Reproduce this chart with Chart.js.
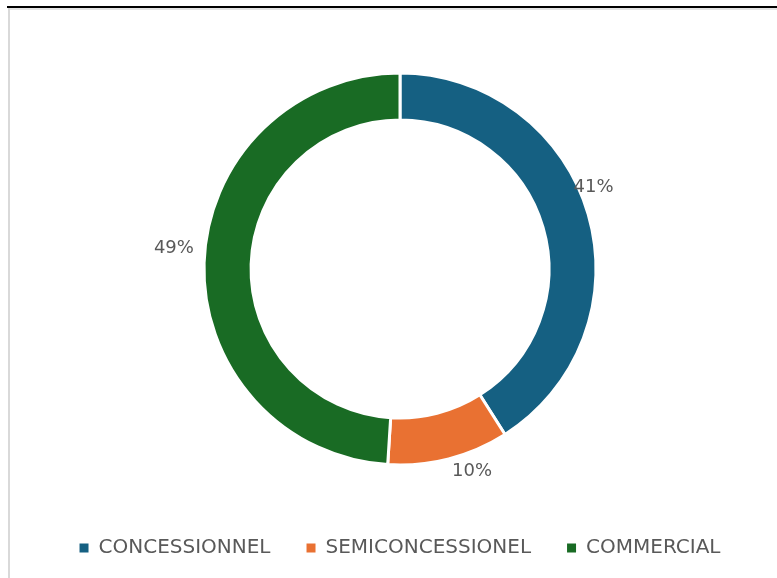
<!DOCTYPE html>
<html>
<head>
<meta charset="utf-8">
<script src="https://cdn.jsdelivr.net/npm/chart.js@4/dist/chart.umd.min.js"></script>
<style>
  html, body { margin: 0; padding: 0; background: #fff; }
  #wrap { position: relative; width: 777px; height: 578px; overflow: hidden; }
  #topline { position: absolute; left: 7px; top: 6px; width: 800px; height: 2px; background: #000; }
  #topgray { position: absolute; left: 8px; top: 8px; width: 800px; height: 2px; background: #e4e4e4; }
  #leftgray { position: absolute; left: 8px; top: 8px; width: 2px; height: 600px; background: #d9d9d9; }
  canvas { position: absolute; left: 0; top: 0; }
</style>
</head>
<body>
<div id="wrap">
  <div id="topline"></div>
  <div id="topgray"></div>
  <div id="leftgray"></div>
  <canvas id="chart" width="777" height="578"></canvas>
</div>
<script>
// Data
const categories = ['CONCESSIONNEL', 'SEMICONCESSIONEL', 'COMMERCIAL'];
const shares = [41, 10, 49];
const colors = ['#156082', '#E97132', '#196B24'];

// Percent labels around the ring (angle nudge in degrees, distance past the outer edge)
const outsideLabels = {
    id: 'outsideLabels',
    afterDatasetsDraw(chart, args, opts) {
        const ctx = chart.ctx;
        const meta = chart.getDatasetMeta(0);
        ctx.save();
        ctx.font = '18px "DejaVu Sans"';
        ctx.fillStyle = '#595959';
        ctx.textAlign = 'center';
        ctx.textBaseline = 'middle';
        meta.data.forEach((arc, i) => {
            const p = arc.getProps(['x', 'y', 'startAngle', 'endAngle', 'outerRadius']);
            const n = opts.nudge[i] || { da: 0, dr: 20 };
            const a = (p.startAngle + p.endAngle) / 2 + n.da * Math.PI / 180;
            const r = p.outerRadius + n.dr;
            ctx.fillText(shares[i] + '%', p.x + Math.cos(a) * r, p.y + Math.sin(a) * r);
        });
        ctx.restore();
    }
};

const ctx = document.getElementById('chart').getContext('2d');
new Chart(ctx, {
    type: 'doughnut',
    data: {
        labels: categories,
        datasets: [{
            data: shares,
            backgroundColor: colors,
            borderColor: '#ffffff',
            borderWidth: 3,
            radius: 196,
            cutout: '76%'
        }]
    },
    options: {
        responsive: false,
        animation: false,
        layout: { padding: { top: 36, left: 23, right: 0, bottom: 10 } },
        plugins: {
            tooltip: { enabled: false },
            outsideLabels: {
                nudge: [{ da: -6.6, dr: 14 }, { da: -5.2, dr: 19 }, { da: 3.3, dr: 31 }]
            },
            legend: {
                position: 'bottom',
                labels: {
                    boxWidth: 9,
                    boxHeight: 9,
                    padding: 36,
                    color: '#595959',
                    font: { family: 'DejaVu Sans', size: 20 },
                    generateLabels(chart) {
                        const items = Chart.overrides.doughnut.plugins.legend.labels.generateLabels(chart);
                        items.forEach(it => { it.lineWidth = 0; it.strokeStyle = it.fillStyle; });
                        return items;
                    }
                }
            }
        }
    },
    plugins: [outsideLabels]
});
</script>
</body>
</html>
